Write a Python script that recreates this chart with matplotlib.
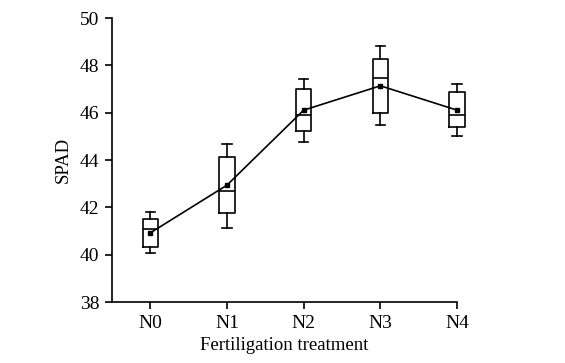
import matplotlib
matplotlib.use("Agg")
import matplotlib.pyplot as plt

plt.rcParams['font.family'] = ['Liberation Serif', 'DejaVu Serif']

treatments = ['N0', 'N1', 'N2', 'N3', 'N4']
whislo = [40.06, 41.14, 44.77, 45.47, 45.00]
q1 = [40.34, 41.75, 45.22, 46.01, 45.38]
med = [41.07, 42.68, 45.89, 47.49, 45.89]
q3 = [41.51, 44.11, 46.99, 48.27, 46.86]
whishi = [41.79, 44.70, 47.42, 48.83, 47.22]
means = [40.92, 42.94, 46.11, 47.14, 46.11]

stats = []
for i in range(len(treatments)):
    stats.append(dict(label=treatments[i], whislo=whislo[i], q1=q1[i], med=med[i],
                      q3=q3[i], whishi=whishi[i], fliers=[]))

fig = plt.figure(figsize=(5.65, 3.63), dpi=100)
ax = fig.add_axes([0.198, 0.168, 0.611, 0.782])

pos = list(range(len(treatments)))
lw = 1.2
bp = ax.bxp(stats, positions=pos, widths=0.2, showfliers=False, patch_artist=False,
            boxprops=dict(color='black', linewidth=lw),
            whiskerprops=dict(color='black', linewidth=lw),
            capprops=dict(color='black', linewidth=lw),
            medianprops=dict(color='black', linewidth=lw),
            capwidths=0.12)
for k in bp:
    for a in bp[k]:
        a.set_clip_on(False)
ax.plot(pos, means, color='black', linewidth=lw, marker='s', markersize=3.5, clip_on=False)

ax.set_xlim(-0.5, 4)
ax.set_ylim(38, 50)
ax.set_yticks(range(38, 51, 2))
ax.set_xticks(pos)
ax.set_xticklabels(treatments)
ax.spines['top'].set_visible(False)
ax.spines['right'].set_visible(False)
ax.spines['left'].set_linewidth(1.2)
ax.spines['bottom'].set_linewidth(1.2)
ax.tick_params(direction='out', length=5, width=1.2, labelsize=14, pad=4)
ax.set_xlabel('Fertiligation treatment', fontsize=13.5, labelpad=4)
ax.set_ylabel('SPAD', fontsize=13.5, labelpad=6)

fig.savefig('out.png', dpi=100)
